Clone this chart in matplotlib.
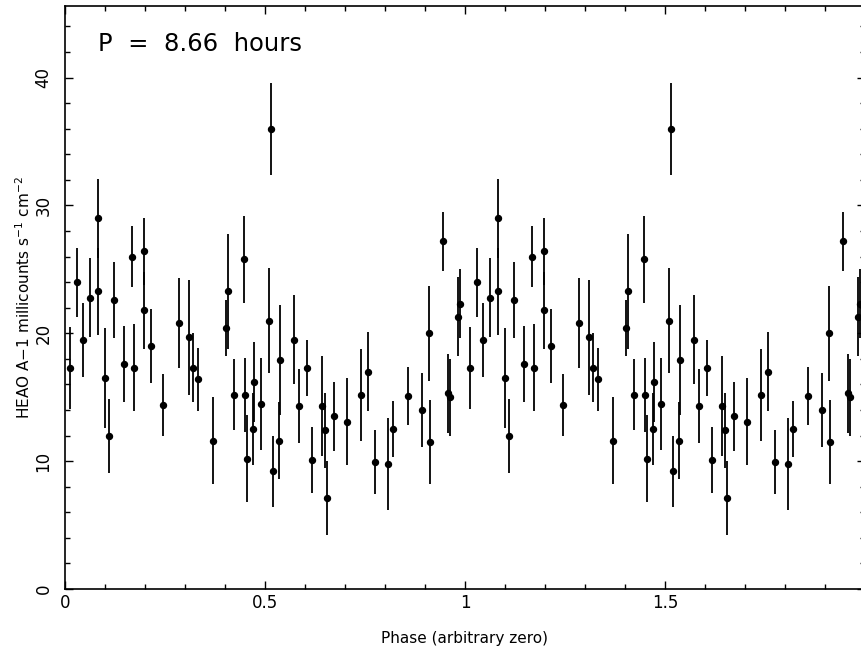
import numpy as np
import matplotlib.pyplot as plt
from matplotlib.ticker import MultipleLocator

# folded light curve, one cycle (plotted twice)
phase = [0.012, 0.031, 0.046, 0.063, 0.082, 0.082, 0.101, 0.110, 0.122, 0.147,
         0.168, 0.173, 0.197, 0.197, 0.216, 0.245, 0.286, 0.310, 0.321, 0.333,
         0.371, 0.402, 0.407, 0.422, 0.448, 0.451, 0.454, 0.470, 0.473, 0.489,
         0.510, 0.515, 0.521, 0.535, 0.538, 0.573, 0.585, 0.605, 0.618, 0.643,
         0.650, 0.654, 0.673, 0.705, 0.740, 0.758, 0.775, 0.807, 0.821, 0.858,
         0.8925, 0.910, 0.912, 0.945, 0.958, 0.9625, 0.9825, 0.988]
rate = [17.3, 24.0, 19.5, 22.8, 29.0, 23.3, 16.5, 12.0, 22.6, 17.6,
        26.0, 17.3, 26.4, 21.8, 19.0, 14.4, 20.8, 19.7, 17.3, 16.4,
        11.6, 20.4, 23.3, 15.2, 25.8, 15.2, 10.2, 12.5, 16.2, 14.5,
        21.0, 36.0, 9.2, 11.6, 17.9, 19.5, 14.3, 17.3, 10.1, 14.3,
        12.4, 7.1, 13.5, 13.1, 15.2, 17.0, 9.9, 9.8, 12.5, 15.1,
        14.0, 20.0, 11.5, 27.2, 15.3, 15.0, 21.3, 22.3]
err = [3.2, 2.7, 2.9, 3.1, 3.1, 3.4, 3.9, 2.9, 3.0, 3.0,
       2.4, 3.4, 2.6, 3.0, 2.9, 2.4, 3.5, 4.5, 2.7, 2.45,
       3.4, 2.2, 4.5, 2.8, 3.4, 2.9, 3.4, 2.8, 3.1, 3.6,
       4.1, 3.6, 2.8, 3.0, 4.3, 3.5, 2.9, 2.2, 2.6, 3.9,
       2.9, 2.9, 2.7, 3.4, 3.6, 3.1, 2.5, 3.6, 2.2, 2.3,
       2.9, 3.7, 3.3, 2.3, 3.1, 3.0, 3.1, 2.7]

x = np.concatenate([phase, np.array(phase) + 1])
y = np.concatenate([rate, rate])
e = np.concatenate([err, err])

fig = plt.figure(figsize=(8.62, 6.53), dpi=100)
# right edge of the frame falls just outside the picture, as in the scan
ax = fig.add_axes([65/862, 64/653, 800/862, 583/653])

ax.errorbar(x, y, yerr=e, fmt='o', color='black', ms=4.3, elinewidth=1.3,
            capsize=0)

ax.set_xlim(0, 2)
ax.set_ylim(0, 45.6)
ax.xaxis.set_major_locator(MultipleLocator(0.5))
ax.xaxis.set_minor_locator(MultipleLocator(0.1))
ax.yaxis.set_major_locator(MultipleLocator(10))
ax.yaxis.set_minor_locator(MultipleLocator(2))
ax.set_xticks([0, 0.5, 1, 1.5, 2])
ax.set_xticklabels(['0', '0.5', '1', '1.5', '2'])
ax.tick_params(which='both', direction='in', top=True, right=True, labelsize=12)
ax.tick_params(axis='y', pad=9)
ax.tick_params(which='major', length=6, width=1)
ax.tick_params(which='minor', length=3.5, width=1)
for lab in ax.get_yticklabels():
    lab.set_rotation(90)
    lab.set_va('center')
for s in ax.spines.values():
    s.set_linewidth(1.2)

ax.set_xlabel('Phase (arbitrary zero)', fontsize=11, labelpad=14)
ax.set_ylabel(r'HEAO A$-$1 millicounts s$^{-1}$ cm$^{-2}$', fontsize=11, labelpad=1)
ax.text(0.082, 42.6, 'P  =  8.66  hours', fontsize=17.5, va='center')

fig.savefig('out.png', dpi=100)
